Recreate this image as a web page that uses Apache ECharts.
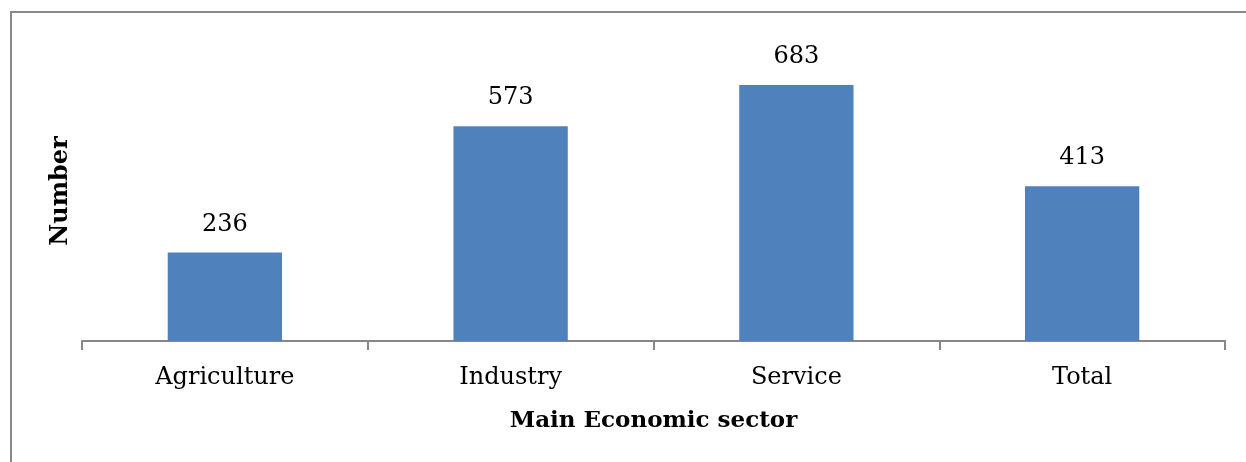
<!DOCTYPE html>
<html>
<head>
<meta charset="utf-8">
<script src="https://cdn.jsdelivr.net/npm/echarts@6/dist/echarts.min.js"></script>
<style>
html,body{margin:0;padding:0;background:#fff;}
#chart{width:1246px;height:462px;}
</style>
</head>
<body>
<div id="chart"></div>
<script>
var categories = ["Agriculture", "Industry", "Service", "Total"];
var values = [236, 573, 683, 413];
var xTitle = "Main Economic sector";
var yTitle = "Number";

var FONT = "DejaVu Serif";
var chart = echarts.init(document.getElementById('chart'), null, {renderer: 'canvas'});
chart.setOption({
  animation: false,
  backgroundColor: '#fff',
  graphic: [{
    type: 'rect',
    shape: {x: 11, y: 12, width: 1260, height: 480},
    style: {fill: 'none', stroke: '#898989', lineWidth: 2},
    silent: true
  }],
  grid: {left: 82, right: 21, top: 41, bottom: 121},
  xAxis: {
    type: 'category',
    data: categories,
    name: xTitle,
    nameLocation: 'middle',
    nameGap: 69,
    nameTextStyle: {fontFamily: FONT, fontWeight: 'bold', fontSize: 23, color: '#000'},
    axisLine: {lineStyle: {color: '#878787', width: 2}},
    axisTick: {show: true, length: 9, lineStyle: {color: '#878787', width: 2}},
    axisLabel: {fontFamily: FONT, fontSize: 24, color: '#000', margin: 25}
  },
  yAxis: {
    type: 'value',
    min: 0, max: 800,
    name: yTitle,
    nameLocation: 'middle',
    nameGap: 9,
    nameTextStyle: {fontFamily: FONT, fontWeight: 'bold', fontSize: 24, color: '#000'},
    axisLine: {show: false},
    axisTick: {show: false},
    axisLabel: {show: false},
    splitLine: {show: false}
  },
  series: [{
    type: 'bar',
    data: values,
    barWidth: '40%',
    itemStyle: {color: '#4F81BD'},
    label: {show: true, position: 'top', distance: 16, fontFamily: FONT, fontSize: 24, color: '#000'}
  }]
});
</script>
</body>
</html>
